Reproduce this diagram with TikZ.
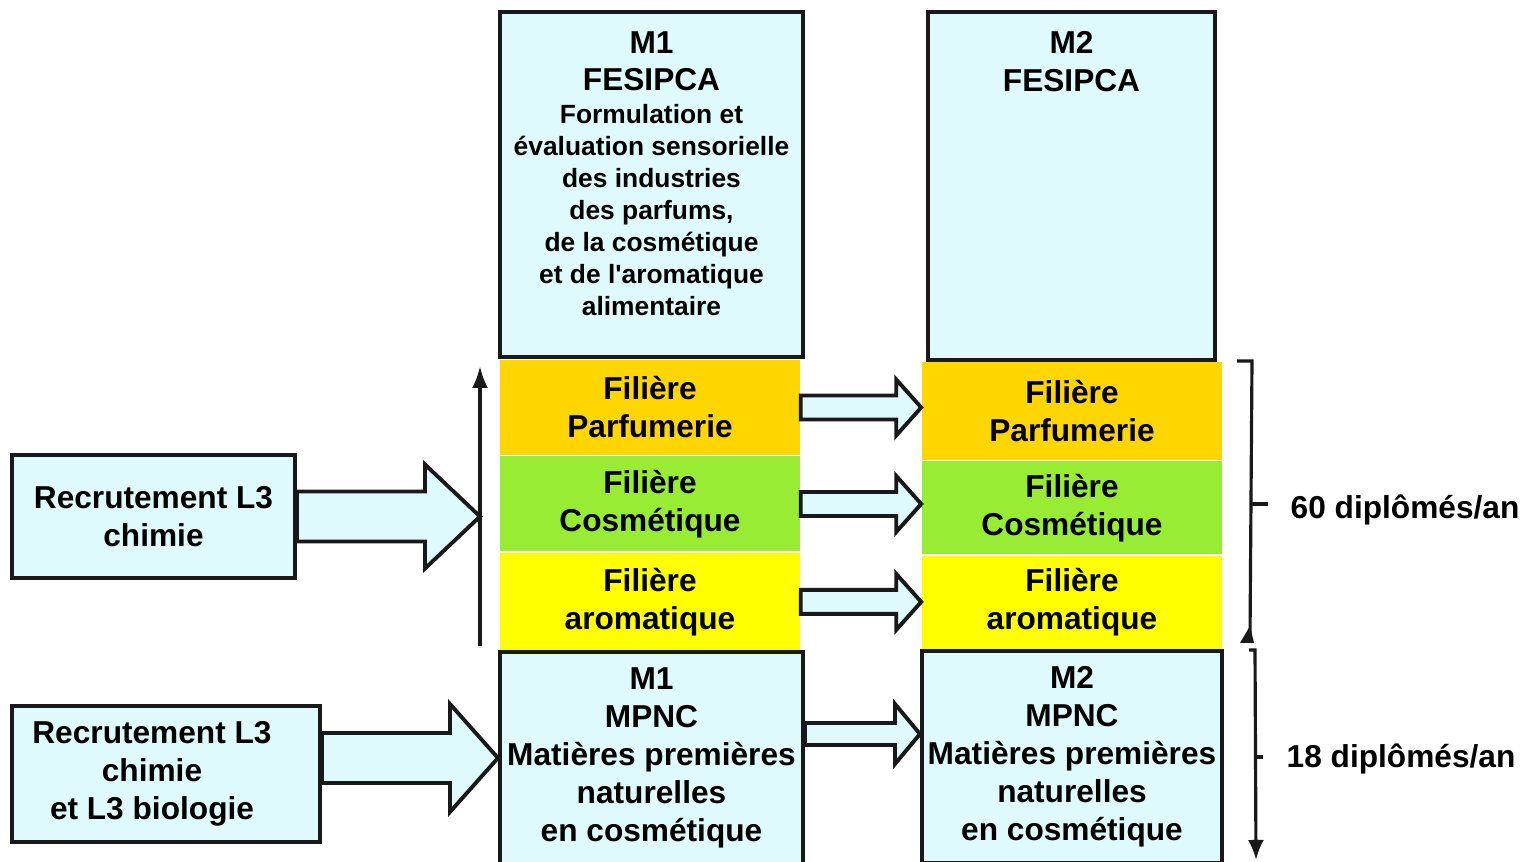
\documentclass[tikz,border=0pt]{standalone}
\usepackage{fontspec}
\setmainfont{Liberation Sans}
\usetikzlibrary{calc,positioning,arrows.meta}
\definecolor{cielclair}{RGB}{222,250,253}
\definecolor{orangeP}{RGB}{255,214,0}
\definecolor{vertC}{RGB}{152,236,52}
\definecolor{jauneA}{RGB}{255,255,0}
\newcommand{\policetitre}{\fontsize{9}{10.8}\selectfont\bfseries}
\newcommand{\policedescr}{\fontsize{7.5}{9.1}\selectfont\bfseries}
\def\fleche[#1](#2)(#3)(#4:#5:#6){\draw[#1] ($(#2)+(0,#4)$) -- ($(#3)+(-#6,#4)$) -- ($(#3)+(-#6,#5)$) -- (#3) -- ($(#3)+(-#6,-#5)$) -- ($(#3)+(-#6,-#4)$) -- ($(#2)+(0,-#4)$) -- cycle;}

\begin{document}
\begin{tikzpicture}[x=0.01cm, y=-0.01cm,
	boite/.style={draw=black!90, line width=1.1pt, fill=cielclair, inner sep=0pt, align=center, font=\policetitre},
	filiere/.style={inner sep=0pt, align=center, font=\policetitre, minimum width=3cm},
	texte/.style={inner sep=0pt, align=center},
	fleche/.style={draw=black!90, line width=1.1pt, fill=cielclair, line join=miter},
	trait/.style={draw=black!90, line width=0.9pt}]
			%%%%% CADRE %%%%%
			\useasboundingbox (0,0) rectangle (1524,862);
			\clip (0,0) rectangle (1524,862);
			
			%%%%% M1 / M2 FESIPCA %%%%%
			\node[boite, minimum width=3.03cm, minimum height=3.45cm] (M1F) at (651.5,184.5) {};
			\node[texte, font=\policedescr, below=0.21cm of M1F.north] (M1Ftexte) {{\policetitre M1}\\[1.4pt]{\policetitre FESIPCA}\\[0.4pt]Formulation et\\évaluation sensorielle\\des industries\\des parfums,\\de la cosmétique\\et de l\textquotesingle aromatique\\alimentaire};
			
			\node[boite, minimum width=2.87cm, minimum height=3.48cm] (M2F) at (1071.5,186) {};
			\node[texte, font=\policetitre, below=0.21cm of M2F.north] (M2Ftexte) {M2\\FESIPCA};
			
			%%%%% FILIERES %%%%%
			\node[filiere, fill=orangeP, minimum height=0.95cm] (M1P) at (650,407.5) {Filière\\Parfumerie};
			\node[filiere, fill=vertC, minimum height=0.95cm, below=0cm of M1P] (M1C) {Filière\\Cosmétique};
			\node[filiere, fill=jauneA, minimum height=0.98cm, below=0cm of M1C] (M1A) {Filière\\aromatique};
			
			\node[filiere, fill=orangeP, minimum height=0.98cm] (M2P) at (1072,411) {Filière\\Parfumerie};
			\node[filiere, fill=vertC, minimum height=0.93cm, below=0cm of M2P] (M2C) {Filière\\Cosmétique};
			\node[filiere, fill=jauneA, minimum height=0.93cm, below=0cm of M2C] (M2A) {Filière\\aromatique};
			
			%%%%% MPNC %%%%%
			\node[boite, minimum width=3.03cm, minimum height=2.12cm] (M1M) at (651.5,758) {M1\\MPNC\\Matières premières\\naturelles\\en cosmétique};
			\node[boite, minimum width=3.00cm, minimum height=2.12cm] (M2M) at (1072,757) {M2\\MPNC\\Matières premières\\naturelles\\en cosmétique};
			
			%%%%% RECRUTEMENT %%%%%
			\node[boite, minimum width=2.83cm, minimum height=1.23cm] (R1) at (153.5,516.5) {Recrutement L3\\chimie};
			\node[boite, minimum width=3.08cm, minimum height=1.36cm, label={[texte, font=\policetitre, xshift=-0.14cm]center:{Recrutement L3\\chimie\\et L3 biologie}}] (R2) at (166,774) {};
			
			%%%%% FLECHES %%%%%
			\coordinate (haut) at (480,366);
			\coordinate (bas) at (480,646);
			\draw[trait, line width=1pt, -{Latex[length=0.22cm, width=0.16cm]}] (bas) -- (haut);
			
			\coordinate (pointe1) at (R1.east -| haut);
			\fleche[fleche](R1.east)(pointe1)(25:52:55);
			
			\coordinate (depart2) at (R2.east |- M1M.west);
			\fleche[fleche](depart2)(M1M.west)(25:54:48);
			
			\foreach \f in {P,C,A}{
				\coordinate (pointe\f) at (M2\f.west |- M1\f.east);
				\fleche[fleche](M1\f.east)(pointe\f)(12:28:25);
			}
			
			\coordinate (departM) at ([yshift=0.24cm]M1M.east);
			\coordinate (pointeM) at (M2M.west |- departM);
			\fleche[fleche](departM)(pointeM)(11:30:25);
			
			%%%%% DIPLOMES %%%%%
			\node[texte, font=\policetitre, anchor=base west] (T60) at (1290,519) {60 diplômés/an};
			\node[texte, font=\policetitre, anchor=base west] (T18) at (1286,768) {18 diplômés/an};
			
			\draw[trait] (1237,361) -- (1252,361) -- (1250,638);
			\fill[black!90] (1240,643) -- (1250,626) -- (1254,643) -- cycle;
			\coordinate (acc60) at (1251,504);
			\draw[trait] (acc60) -- ++(17,0);
			
			\draw[trait, -{Latex[length=0.2cm, width=0.16cm]}] (1249,650) -- (1255,650) -- (1256,860);
			\coordinate (acc18) at (1256,757);
			\draw[trait] (acc18) -- ++(7,0);
			
			%%%%% FIN %%%%%
\end{tikzpicture}
\end{document}
